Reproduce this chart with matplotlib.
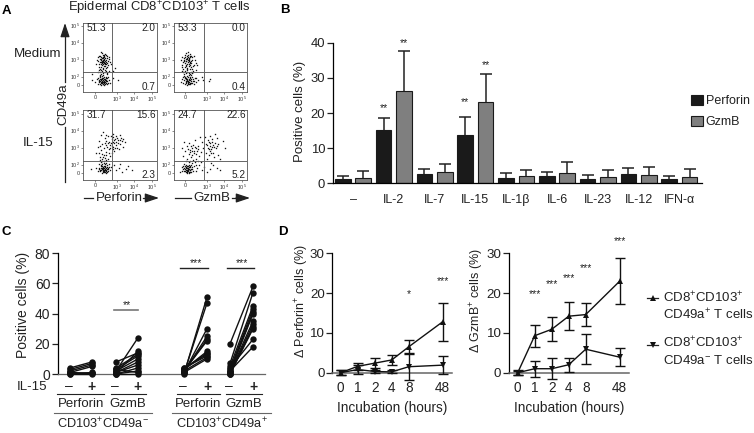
import numpy as np
import matplotlib
matplotlib.use('Agg')
import matplotlib.pyplot as plt
from matplotlib.lines import Line2D
from matplotlib.patches import FancyArrowPatch

plt.rcParams['font.family'] = ['Liberation Sans', 'DejaVu Sans']
plt.rcParams['mathtext.fontset'] = 'custom'
plt.rcParams['mathtext.rm'] = 'Liberation Sans'
plt.rcParams['mathtext.it'] = 'Liberation Sans'
plt.rcParams['mathtext.bf'] = 'Liberation Sans:bold'
plt.rcParams['mathtext.default'] = 'regular'

W, H = 754, 433
TXT = '#222222'

# ---------- data ----------
dots_med_perf = [(0.45,1.4),(0.52,1.62),(0.38,1.18),(0.61,1.47),(0.27,1.55),(0.71,1.3),(0.49,1.75),(0.33,1.33),(0.57,1.1),(0.42,1.9),(0.66,1.68),(0.18,1.42),(0.55,1.26),(0.8,1.52),(0.4,1.6),(0.47,1.02),(0.3,1.72),(0.63,1.38),(0.08,1.25),(0.74,1.15),(0.5,1.5),(0.36,1.45),(0.58,1.85),(0.24,1.08),(0.68,1.58),(0.44,1.22),(0.53,1.36),(0.35,1.95),(0.86,1.36),(0.15,1.64),(0.6,0.98),(0.46,1.56),(0.28,0.95),(0.41,1.3),(0.56,1.44),(0.4,0.85),(0.55,0.9),(0.3,0.78),(0.48,0.72),(0.62,0.82),(0.22,0.88),(0.36,0.66),(0.7,0.7),(0.42,0.25),(0.5,0.12),(0.35,0.32),(0.58,0.2),(0.28,0.08),(0.65,0.3),(0.45,0.42),(0.2,0.22),(0.53,0.02),(0.38,0.15),(0.72,0.14),(0.3,0.46),(0.6,0.5),(0.47,0.3),(0.12,0.38),(0.8,0.28),(0.33,-0.02),(0.56,0.36),(0.4,0.55),(0.25,0.16),(0.66,0.05),(0.5,0.24),(0.44,0.08),(0.36,0.2),(0.6,0.1),(0.15,0.05),(0.75,0.45),(0.52,0.48),(-0.15,0.3),(1.05,0.42),(1.3,0.3),(1.0,0.82),(1.15,1.0),(-0.2,0.62),(0.43,1.48),(0.39,1.36),(0.5,1.28),(0.34,1.52),(0.47,1.66),(0.59,1.56),(0.37,0.38),(0.48,0.18),(0.55,0.28),(0.31,0.24),(0.42,0.1),
(0.54,1.52),(0.32,1.24),(0.46,1.34),(0.64,1.22),(0.4,1.44),(0.51,1.7),(0.26,1.38),(0.72,1.44),(0.58,1.32),(0.37,1.62),(0.44,1.78),(0.22,1.7),(0.78,1.62),(0.12,1.5),(0.6,1.76),(0.49,1.12),(0.35,1.06),(0.66,1.08),(0.2,1.22),(0.9,1.22),(0.55,0.76),(0.43,0.92),(0.33,0.88),(0.66,0.62),(0.26,0.6),(0.46,0.58),(0.17,0.74),(0.8,0.84),(0.52,0.16),(0.41,0.34),(0.62,0.4),(0.27,0.36),(0.34,0.12),(0.7,0.22),(0.46,0.04),(0.57,0.08),(0.23,0.28),(0.39,0.44),(0.18,0.44),(0.52,0.38),(0.85,0.12),(0.02,0.18),(0.62,0.26),(0.29,0.52),(0.44,0.2),(0.68,0.4)]
dots_med_gzmb = [(0.1,1.55),(0.22,1.42),(0.0,1.3),(0.3,1.62),(-0.08,1.48),(0.36,1.28),(0.15,1.75),(-0.15,1.66),(0.42,1.5),(0.05,1.88),(0.28,1.16),(-0.02,1.08),(0.5,1.7),(0.18,1.34),(-0.2,1.2),(0.12,1.02),(0.38,0.96),(0.26,1.82),(0.6,1.32),(0.02,1.62),(0.2,1.52),(0.08,1.4),(-0.12,0.95),(0.45,1.1),(0.32,1.44),(-0.25,1.5),(0.16,1.95),(0.7,1.2),(0.25,1.6),(0.05,1.2),(0.14,0.86),(0.33,0.78),(-0.1,0.74),(0.48,0.84),(0.05,0.68),(0.22,0.72),(0.6,0.9),(-0.2,0.82),(0.1,0.3),(0.25,0.18),(0.0,0.42),(0.36,0.34),(-0.1,0.12),(0.18,0.5),(0.44,0.22),(0.3,0.05),(0.06,0.2),(-0.18,0.36),(0.55,0.4),(0.2,0.58),(0.12,0.02),(0.4,0.5),(-0.05,0.55),(0.62,0.15),(0.28,0.28),(0.15,0.12),(-0.25,0.2),(0.34,0.6),(0.08,0.44),(0.5,0.06),(0.22,0.36),(0.72,0.32),(1.05,0.28),(1.35,0.22),(1.4,0.38),(0.95,0.45),(0.17,1.45),(0.07,1.52),(0.27,1.3),(0.12,1.68),(0.03,0.26),(0.16,0.24),(0.26,0.42),(0.33,0.14),(0.19,0.08),(-0.03,1.4),(0.2,1.1),(0.35,1.7),(0.42,0.68),(0.0,0.85),
(0.13,1.6),(-0.05,1.58),(0.24,1.5),(0.04,1.44),(0.31,1.36),(0.1,1.26),(-0.12,1.36),(0.4,1.62),(0.18,1.62),(-0.02,1.74),(0.28,1.72),(0.55,1.5),(-0.18,1.05),(0.08,1.12),(0.22,1.22),(0.34,1.04),(0.52,1.2),(0.1,0.94),(0.27,0.92),(-0.06,0.62),(0.12,0.76),(0.3,0.66),(0.44,0.76),(0.02,0.5),(0.14,0.38),(0.3,0.48),(0.2,0.3),(0.08,0.12),(0.24,0.06),(-0.06,0.3),(0.36,0.22),(0.47,0.34),(0.12,0.22),(-0.14,0.48),(0.4,0.12),(0.53,0.25),(0.04,0.36),(0.18,0.18),(0.28,0.14),(0.1,0.52),(-0.02,0.08),(0.65,0.42)]
dots_il15_perf = [(0.35,0.2),(0.5,0.12),(0.62,0.28),(0.45,0.36),(0.7,0.08),(0.28,0.1),(0.55,0.42),(0.38,0.02),(0.75,0.3),(0.6,0.18),(0.48,0.24),(0.2,0.32),(0.85,0.2),(0.4,0.52),(0.58,0.05),(0.32,0.42),(0.68,0.48),(0.52,0.3),(0.44,0.14),(0.25,0.55),(0.63,0.6),(0.5,0.68),(0.36,0.65),(0.78,0.55),(0.55,0.2),(0.42,0.26),(0.15,0.12),(0.05,0.3),(0.92,0.38),(1.2,0.15),(1.35,0.3),(1.55,0.08),(1.75,0.22),(1.1,0.5),(1.9,0.4),(1.45,0.55),(2.1,0.15),(-0.25,0.25),(0.4,0.85),(0.58,0.9),(0.72,0.8),(0.3,0.95),(0.5,1.05),(0.85,1.0),(0.2,1.15),(0.95,1.2),(0.65,1.25),(0.35,1.35),(1.1,1.3),(0.8,1.4),(0.5,1.45),(1.25,1.5),(0.15,1.55),(0.95,1.6),(0.65,1.65),(1.4,1.7),(0.4,1.72),(1.1,1.75),(0.8,1.85),(1.55,1.88),(0.25,1.9),(1.3,1.95),(0.95,2.0),(0.55,2.05),(1.5,2.08),(0.75,2.15),(1.2,2.2),(0.35,2.25),(1.0,2.32),(1.7,1.8),(1.62,1.55),(1.05,1.55),(1.2,1.85),(0.9,1.75),(0.6,1.9),(1.35,1.4),(0.7,1.55),(1.15,2.02),(0.05,1.2),(0.45,2.4),(0.55,0.34),(0.47,0.08),(0.65,0.14),(0.33,0.28),(0.72,0.22),
(0.58,0.24),(0.43,0.18),(0.53,0.08),(0.66,0.36),(0.38,0.3),(0.49,0.44),(0.6,0.02),(0.3,0.18),(0.46,0.3),(0.74,0.14),(0.56,0.52),(0.41,0.42),(0.24,0.22),(0.82,0.34),(0.62,0.1),(0.35,0.5),(0.52,0.2),(0.68,0.24),(0.5,0.58),(0.4,0.7),(0.6,0.78),(0.28,0.78),(0.48,0.94),(0.65,1.05),(0.38,1.12),(0.78,1.18),(1.05,1.42),(1.2,1.62),(0.88,1.5),(1.15,1.48),(1.3,1.78),(1.0,1.82),(0.72,1.78),(1.42,1.92),(1.1,1.95),(0.85,1.62),(0.55,1.78),(0.3,1.6),(1.25,2.05),(0.9,2.15),(0.62,2.25),(1.45,2.25),(1.6,2.0),(1.05,2.12)]
dots_il15_gzmb = [(0.05,0.2),(0.15,0.1),(-0.05,0.3),(0.22,0.25),(0.1,0.02),(-0.15,0.14),(0.3,0.38),(0.0,0.44),(0.18,0.16),(0.36,0.06),(0.08,0.34),(-0.2,0.36),(0.25,0.5),(0.42,0.22),(0.02,0.1),(0.14,0.28),(-0.08,0.52),(0.5,0.42),(0.6,0.12),(0.2,0.62),(0.7,0.3),(0.38,0.6),(0.8,0.5),(0.55,0.66),(0.05,0.68),(0.95,0.2),(0.3,0.16),(1.1,0.38),(1.4,0.25),(1.6,0.45),(1.25,0.08),(1.8,0.3),(1.5,0.6),(2.0,0.15),(0.9,0.62),(-0.3,0.05),(0.1,0.85),(0.35,0.95),(0.6,0.82),(-0.1,1.0),(0.78,1.02),(0.2,1.12),(0.5,1.2),(0.0,1.3),(0.9,1.25),(0.3,1.38),(0.62,1.45),(-0.2,1.5),(0.12,1.6),(0.45,1.65),(0.75,1.6),(0.25,1.78),(-0.05,1.85),(0.55,1.95),(0.95,1.8),(1.2,1.15),(1.4,1.3),(1.6,1.2),(1.3,1.5),(1.55,1.55),(1.75,1.45),(1.2,1.7),(1.45,1.75),(1.7,1.78),(1.9,1.7),(1.3,1.95),(1.55,2.0),(1.8,2.05),(1.15,2.1),(1.45,2.2),(1.7,2.3),(2.15,1.9),(2.3,1.5),(1.35,1.05),(1.65,0.95),(1.9,1.05),(2.0,0.85),(1.25,0.85),(0.4,1.5),(0.7,1.3),(1.05,1.45),(0.85,2.1),(0.3,0.08),(0.12,0.42),(0.04,0.05),(0.24,0.33),
(0.09,0.14),(0.19,0.3),(0.0,0.22),(-0.1,0.22),(0.13,0.05),(0.27,0.18),(0.06,0.28),(0.17,0.4),(-0.03,0.14),(0.33,0.26),(0.22,0.08),(0.11,0.2),(0.03,0.34),(0.16,0.22),(0.28,0.44),(0.4,0.34),(0.07,0.5),(-0.12,0.4),(0.35,0.48),(0.46,0.12),(0.2,0.02),(0.6,0.5),(0.48,0.75),(0.3,0.72),(0.72,0.7),(0.42,1.08),(0.65,1.12),(0.28,1.22),(0.52,1.32),(0.4,1.3),(0.75,1.42),(0.18,1.42),(0.55,1.52),(0.35,1.58),(1.38,1.42),(1.5,1.4),(1.62,1.62),(1.42,1.58),(1.25,1.62),(1.55,1.85),(1.35,1.85),(1.68,1.55),(1.82,1.6),(1.5,1.15)]

cytokines = ['\u2013', 'IL-2', 'IL-7', 'IL-15', 'IL-1\u03b2', 'IL-6', 'IL-23', 'IL-12', 'IFN-\u03b1']
perforin = [1.3, 15.3, 2.7, 13.8, 1.6, 2.0, 1.2, 2.6, 1.2]
perforin_err = [0.9, 3.2, 1.3, 5.2, 1.2, 1.3, 1.2, 1.8, 1.0]
gzmb = [1.5, 26.4, 3.2, 23.2, 2.1, 2.8, 1.9, 2.3, 1.9]
gzmb_err = [2.0, 11.1, 2.4, 8.0, 1.7, 3.4, 1.9, 2.4, 2.3]
b_stars = {1: (21.3, 40.0), 3: (23.0, 33.6)}

c_neg_perf = ([0, 0, 1, 2, 3, 4, 0.5, 1], [0, 1, 5, 6, 7, 8, 0.5, 0.5])
c_neg_gzmb = ([0, 0, 0, 1, 1, 2, 3, 4, 8, 1, 2, 3], [0, 2, 4, 6, 8, 10, 12, 13, 14, 15, 24, 1])
c_pos_perf = ([0, 0.5, 1, 1.5, 2, 2, 3, 3, 4, 4, 1, 2], [51, 47, 30, 25, 23, 22, 15, 14, 13, 12, 10, 11])
c_pos_gzmb = ([20, 7, 5, 3, 2, 1, 1, 0, 0, 0, 4, 2], [58, 54, 45, 43, 41, 40, 35, 33, 31, 30, 23, 18])

hours = ['0', '1', '2', '4', '8', '48']
perf_up = [0, 1.6, 2.4, 3.2, 6.5, 12.8]
perf_up_err = [0.6, 0.9, 1.2, 1.3, 1.8, 4.8]
perf_dn = [0, 0.8, 0.3, 0.2, 1.5, 1.9]
perf_dn_err = [0.6, 1.2, 0.5, 0.4, 3.4, 2.2]
gzmb_up = [0, 9.3, 10.9, 14.2, 14.6, 23]
gzmb_up_err = [0.6, 2.8, 3.0, 3.5, 2.8, 5.8]
gzmb_dn = [0, 1, 1, 2, 5.9, 3.9]
gzmb_dn_err = [0.5, 2.0, 2.6, 1.8, 3.7, 2.2]

# ---------- helpers ----------
fig = plt.figure(figsize=(W / 100, H / 100), dpi=100)

def axpx(x0, x1, y0, y1):
    return fig.add_axes([x0 / W, 1 - y1 / H, (x1 - x0) / W, (y1 - y0) / H])

def T(x, y, s, size=9.3, ha='center', va='center', **kw):
    kw.setdefault('color', TXT)
    return fig.text(x / W, 1 - y / H, s, fontsize=size, ha=ha, va=va, **kw)

def L(x0, x1, y0, y1, lw=0.9, color='#222222', **kw):
    fig.add_artist(Line2D([x0 / W, x1 / W], [1 - y0 / H, 1 - y1 / H], lw=lw, color=color, **kw))

def A(x0, y0, x1, y1):
    fig.add_artist(FancyArrowPatch((x0 / W, 1 - y0 / H), (x1 / W, 1 - y1 / H),
        transform=fig.transFigure, arrowstyle='-|>,head_length=0.6,head_width=0.2',
        mutation_scale=14, lw=0.9, color='#222222', shrinkA=0, shrinkB=0))

for xy, s in [((2, 11), 'A'), ((280, 10), 'B'), ((1, 232), 'C'), ((278, 232), 'D')]:
    T(xy[0], xy[1], s, size=9.5, ha='left', fontweight='bold', color='black')

# ---------- panel A ----------
def flow(px, dots, gate, labels):
    ax = axpx(*px)
    x0 = px[0] + 12 if px[0] < 100 else px[0] + 11
    xunit, yunit = 17.5, 17.0
    zero_y = px[3] - 7
    ax.set_xlim((px[0] - x0) / xunit, (px[1] - x0) / xunit)
    ax.set_ylim((zero_y - px[3]) / yunit, (zero_y - px[2]) / yunit)
    d = np.array(dots)
    ax.plot(d[:, 0], d[:, 1], ls='none', marker='s', ms=0.95, mew=0, color='#111111')
    ax.axvline(gate[0], color='#666666', lw=0.7)
    ax.axhline(gate[1], color='#666666', lw=0.7)
    ax.set_xticks([0, 1.25, 2.25, 3.25], ['0', '$10^3$', '$10^4$', '$10^5$'])
    ax.set_yticks([0, 0.5, 1.5, 2.5, 3.5], ['0', '$10^2$', '$10^3$', '$10^4$', '$10^5$'])
    ax.tick_params(labelsize=3.9, length=1.5, width=0.4, pad=0.8, colors='#333333')
    for s in ax.spines.values():
        s.set_linewidth(0.6)
        s.set_color('#555555')
    for (fx, fy, ha, t) in zip((0.05, 0.985, 0.985), (0.93, 0.93, 0.07), ('left', 'right', 'right'), labels):
        ax.text(fx, fy, t, transform=ax.transAxes, fontsize=7.2, ha=ha, va='center', color=TXT)

flow((83, 157, 23, 92), dots_med_perf, (0.99, 0.77), ('51.3', '2.0', '0.7'))
flow((174, 247, 23, 92), dots_med_gzmb, (1.1, 0.77), ('53.3', '0.0', '0.4'))
flow((83, 157, 110, 180), dots_il15_perf, (0.99, 0.72), ('31.7', '15.6', '2.3'))
flow((174, 247, 110, 180), dots_il15_gzmb, (1.1, 0.72), ('24.7', '22.6', '5.2'))

T(159, 8, 'Epidermal CD8$^{+}$CD103$^{+}$ T cells', size=9.4)
T(38, 54, 'Medium', size=9.6)
T(38, 143, 'IL-15', size=9.6)
L(65, 65, 182, 127); L(65, 65, 82, 33)
A(65, 36, 65, 23)
T(63, 104, 'CD49a', size=9.6, rotation=90)
T(119, 198, 'Perforin', size=9.6)
L(84, 93, 198, 198); L(143, 148, 198, 198); A(146, 198, 159, 198)
T(212, 198, 'GzmB', size=9.6)
L(175, 191, 198, 198); L(232, 238, 198, 198); A(236, 198, 250, 198)

# ---------- panel B ----------
axb = axpx(332.7, 701.7, 42.7, 183.3)
x = np.arange(len(cytokines))
axb.set_xlim((332.7 - 353) / 40.8, (701.7 - 353) / 40.8)
axb.set_ylim(0, 40)
axb.bar(x - 0.25, perforin, 0.385, color='#1a1a1a', edgecolor='#1a1a1a', lw=0.8, label='Perforin')
axb.bar(x + 0.25, gzmb, 0.385, color='#7f7f7f', edgecolor='#1a1a1a', lw=0.8, label='GzmB')
for off, val, err in ((-0.25, perforin, perforin_err), (0.25, gzmb, gzmb_err)):
    tops = np.array(val) + np.array(err)
    axb.vlines(x + off, val, tops, color='#222222', lw=1.1)
    axb.plot(x + off, tops, ls='none', marker='_', ms=8.5, mew=1.1, color='#222222')
for i, (a, b) in b_stars.items():
    axb.text(i - 0.25, a, '**', ha='center', va='center', fontsize=7.5, color=TXT, clip_on=False)
    axb.text(i + 0.25, b, '**', ha='center', va='center', fontsize=7.5, color=TXT, clip_on=False)
axb.set_xticks(x, cytokines)
axb.set_yticks([0, 10, 20, 30, 40])
axb.tick_params(axis='x', length=0, labelsize=9, pad=8, colors=TXT)
axb.tick_params(axis='y', length=4, width=0.9, labelsize=9.4, pad=1.5, colors=TXT)
T(300, 111, 'Positive cells (%)', size=9.5, rotation=90)
for s in ('top', 'right'):
    axb.spines[s].set_visible(False)
for s in ('left', 'bottom'):
    axb.spines[s].set_linewidth(0.9)
axb.legend(loc='upper left', bbox_to_anchor=(0.97, 0.625), frameon=False, fontsize=9,
           handlelength=0.95, handleheight=0.75, handletextpad=0.25, labelspacing=0.72, borderpad=0,
           borderaxespad=0, labelcolor=TXT)

# ---------- panel C ----------
axc = axpx(58, 265, 253.3, 374)
axc.set_ylim(0, 80)
axc.set_xlim(58, 265)
col_x = [70, 92, 116, 138, 184, 207, 230, 253]
for k, pair in enumerate((c_neg_perf, c_neg_gzmb, c_pos_perf, c_pos_gzmb)):
    a, b = pair
    xa, xb = col_x[2 * k], col_x[2 * k + 1]
    for u, v in zip(a, b):
        axc.plot([xa, xb], [u, v], color='#111111', lw=1.0, marker='o', ms=4.6, mew=0, clip_on=False, zorder=3)
axc.set_xticks([])
axc.set_yticks([0, 20, 40, 60, 80])
axc.tick_params(axis='y', length=4, width=0.9, labelsize=10, pad=1.5, colors=TXT)
T(23, 305, 'Positive cells (%)', size=10, rotation=90)
for s in ('top', 'right'):
    axc.spines[s].set_visible(False)
axc.spines['left'].set_linewidth(0.9)
axc.spines['bottom'].set_linewidth(0.9)
axc.spines['bottom'].set_color('#666666')
T(32, 387, 'IL-15', size=9.5)
for i, xc in enumerate(col_x):
    if i % 2 == 0:
        T(xc - 1, 386.5, '\u2013', size=10)
    else:
        T(xc, 386.5, '+', size=10, fontweight='bold')
L(114, 138, 310, 310, lw=1.2, color='#777777')
T(127, 305, '**', size=7.5)
L(180, 208, 267.7, 267.7, lw=1.0)
T(196, 263, '***', size=7.5)
L(227, 254, 267.7, 267.7, lw=1.0)
T(242, 263, '***', size=7.5)
for (x0, x1) in [(57, 104), (111, 146), (177, 220), (226, 262)]:
    L(x0, x1, 394, 394, lw=0.8)
T(81, 404, 'Perforin', size=9.5)
T(128, 404, 'GzmB', size=9.5)
T(198, 404, 'Perforin', size=9.5)
T(244, 404, 'GzmB', size=9.5)
L(54, 152, 413, 413, lw=0.8, color='#666666')
L(172, 271, 413, 413, lw=0.8, color='#666666')
T(103, 424, 'CD103$^{+}$CD49a$^{-}$', size=9.2)
T(222, 424, 'CD103$^{+}$CD49a$^{+}$', size=9.2)

# ---------- panel D ----------
pos = [0, 1, 2, 3, 4, 6]
def timecourse(px, x0, up, up_e, dn, dn_e, ylabel, ylab_xy, stars):
    ax = axpx(*px)
    unit = 17.0
    ax.set_xlim((px[0] - x0) / unit, (px[1] - x0) / unit)
    ax.set_ylim(0, 30)
    for ys, es, mk in ((dn, dn_e, 'v'), (up, up_e, '^')):
        ax.errorbar(pos, ys, yerr=es, color='#111111', lw=1.0, elinewidth=1.0, capsize=3.4,
                    capthick=1.0, clip_on=False, zorder=3)
        ax.plot(pos, ys, ls='none', marker=mk, ms=5.0, mew=0, color='#111111', clip_on=False, zorder=4)
    ax.set_xticks(pos, hours)
    ax.set_yticks([0, 10, 20, 30])
    ax.tick_params(axis='x', length=0, labelsize=9.8, pad=6, colors=TXT)
    ax.tick_params(axis='y', length=4, width=0.9, labelsize=9.6, pad=1.5, colors=TXT)
    ax.set_xlabel('Incubation (hours)', fontsize=9.8, labelpad=4, color=TXT)
    T(ylab_xy[0], ylab_xy[1], ylabel, size=9.0, rotation=90)
    for s in ('top', 'right'):
        ax.spines[s].set_visible(False)
    ax.spines['left'].set_linewidth(0.9)
    ax.spines['bottom'].set_linewidth(1.1)
    ax.spines['bottom'].set_color('#666666')
    for i, yv, s in stars:
        ax.text(pos[i], yv, s, ha='center', va='center', fontsize=7.5, color=TXT, clip_on=False)

timecourse((332.3, 451.7, 253.3, 372.7), 340.7, perf_up, perf_up_err, perf_dn, perf_dn_err,
           '\u0394 Perforin$^{+}$ cells (%)', (302, 301), [(4, 19.8, '*'), (5, 23.1, '***')])
timecourse((509, 629, 253.3, 372.7), 517.7, gzmb_up, gzmb_up_err, gzmb_dn, gzmb_dn_err,
           '\u0394 GzmB$^{+}$ cells (%)', (477, 301), [(1, 19.8, '***'), (2, 22.3, '***'), (3, 23.7, '***'), (4, 26.2, '***'), (5, 33, '***')])

L(647, 658, 298, 298, lw=0.9)
fig.add_artist(Line2D([652.5 / W], [1 - 298 / H], marker='^', ms=5.0, mew=0, color='#111111', ls='none'))
T(662.7, 298, 'CD8$^{+}$CD103$^{+}$', size=9.5, ha='left')
T(662.7, 315, 'CD49a$^{+}$ T cells', size=9.5, ha='left')
L(647, 658, 345, 345, lw=0.9)
fig.add_artist(Line2D([652.5 / W], [1 - 345 / H], marker='v', ms=5.0, mew=0, color='#111111', ls='none'))
T(662.7, 343, 'CD8$^{+}$CD103$^{+}$', size=9.5, ha='left')
T(662.7, 360, 'CD49a$^{-}$ T cells', size=9.5, ha='left')

fig.savefig('out.png', dpi=100)
